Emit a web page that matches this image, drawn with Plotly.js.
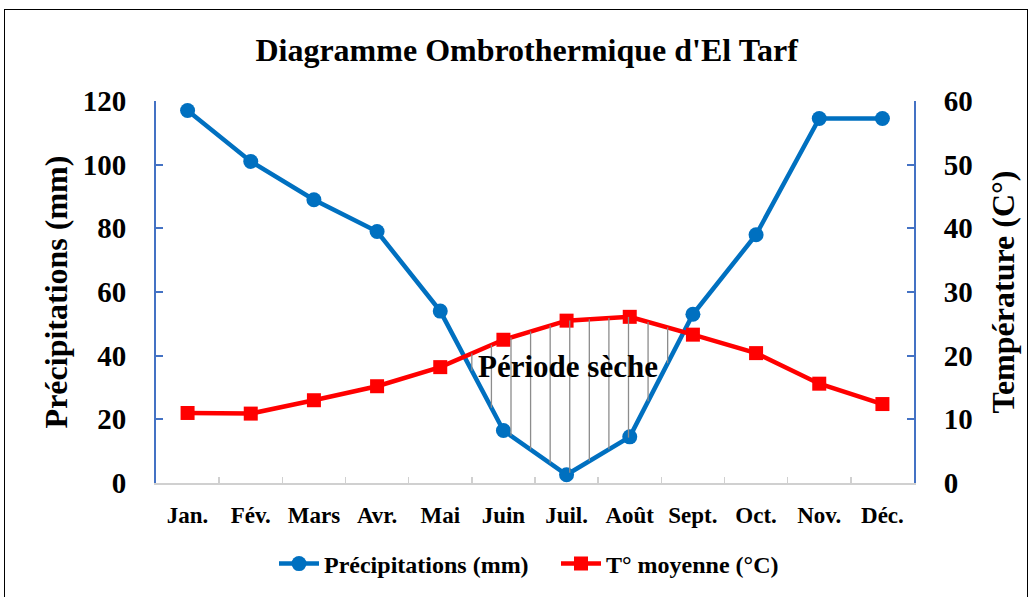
<!DOCTYPE html>
<html>
<head>
<meta charset="utf-8">
<script src="https://cdn.plot.ly/plotly-3.0.1.min.js"></script>
<style>
html,body{margin:0;padding:0;background:#fff;}
#wrap{position:relative;width:1032px;height:597px;overflow:hidden;}
#chart{width:1032px;height:597px;}
#frame{position:absolute;left:4px;top:9px;width:1022px;height:600px;border:1.5px solid #000;pointer-events:none;}
</style>
</head>
<body>
<div id="wrap"><div id="chart"></div><div id="frame"></div></div>
<script>
const months = ["Jan.", "Fév.", "Mars", "Avr.", "Mai", "Juin", "Juil.", "Août", "Sept.", "Oct.", "Nov.", "Déc."];
const precipitation = [117, 101, 89, 79, 54, 16.5, 2.6, 14.5, 53, 78, 114.5, 114.5];
const temperature = [11.0, 10.9, 13.0, 15.2, 18.2, 22.5, 25.5, 26.1, 23.3, 20.4, 15.6, 12.4];

const FONT = "Liberation Serif, Times New Roman, serif";
const BLUE = "#0070C0";
const RED = "#FF0000";
const AXISBLUE = "#4472C4";

// hatching of the dry period (P < 2T), computed from the data
function interp(arr, x) {
  const i = Math.min(Math.floor(x), arr.length - 2);
  const t = x - i;
  return arr[i] * (1 - t) + arr[i + 1] * t;
}
const hx = [], hy = [];
for (let x = 4.5; x <= 7.9; x += 0.31) {
  const p = interp(precipitation, x);
  const t2 = 2 * interp(temperature, x);
  if (t2 > p) {
    hx.push(x, x, null);
    hy.push(p, t2, null);
  }
}

const traces = [
  {
    x: hx, y: hy, xaxis: "x2", yaxis: "y", mode: "lines",
    line: {color: "#8c8c8c", width: 1.3}, showlegend: false, hoverinfo: "skip"
  },
  {
    x: months, y: precipitation, name: "Précipitations (mm)", mode: "lines+markers",
    line: {color: BLUE, width: 4.5}, marker: {color: BLUE, size: 15, symbol: "circle"},
    yaxis: "y"
  },
  {
    x: months, y: temperature, name: "T° moyenne (°C)", mode: "lines+markers",
    line: {color: RED, width: 4.5}, marker: {color: RED, size: 14, symbol: "square"},
    yaxis: "y2"
  }
];

const layout = {
  width: 1032, height: 597,
  margin: {l: 156, r: 118, t: 101, b: 114},
  paper_bgcolor: "#fff", plot_bgcolor: "#fff",
  font: {family: FONT, color: "#000"},
  title: {
    text: "<b>Diagramme Ombrothermique d'El Tarf</b>",
    font: {family: FONT, size: 32, color: "#000"},
    x: 0.489, xref: "paper", xanchor: "center",
    y: 0.916, yref: "container", yanchor: "middle"
  },
  xaxis: {
    type: "category", categoryorder: "array", categoryarray: months,
    range: [-0.5, 11.5], tickson: "boundaries",
    showline: true, linecolor: "#d0d0d0", linewidth: 1.5,
    ticks: "inside", ticklen: 6, tickcolor: "#d0d0d0", tickwidth: 1.5,
    showgrid: false, zeroline: false,
    tickfont: {family: FONT, size: 23, color: "#000", weight: "bold"},
    ticklabelstandoff: 11
  },
  xaxis2: {
    overlaying: "x", range: [-0.5, 11.5], visible: false, showgrid: false, zeroline: false
  },
  yaxis: {
    range: [0, 120], tickvals: [0, 20, 40, 60, 80, 100, 120],
    showline: true, linecolor: AXISBLUE, linewidth: 2,
    ticks: "inside", ticklen: 7, tickcolor: AXISBLUE, tickwidth: 2,
    showgrid: false, zeroline: false,
    tickfont: {family: FONT, size: 29, color: "#000", weight: "bold"},
    ticklabelstandoff: 22,
    title: {text: "<b>Précipitations (mm)</b>", font: {family: FONT, size: 32, color: "#000"}, standoff: 6}
  },
  yaxis2: {
    overlaying: "y", side: "right",
    range: [0, 60], tickvals: [0, 10, 20, 30, 40, 50, 60],
    showline: true, linecolor: AXISBLUE, linewidth: 2,
    ticks: "inside", ticklen: 7, tickcolor: AXISBLUE, tickwidth: 2,
    showgrid: false, zeroline: false,
    tickfont: {family: FONT, size: 29, color: "#000", weight: "bold"},
    ticklabelstandoff: 22,
    title: {text: "<b>Température (C°)</b>", font: {family: FONT, size: 32, color: "#000"}, standoff: 20}
  },
  legend: {
    orientation: "h", x: 556 / 1032, xanchor: "center", xref: "container",
    y: 1 - 564 / 597, yref: "container", yanchor: "middle",
    font: {family: FONT, size: 24, color: "#000", weight: "bold"},
    itemwidth: 40, tracegroupgap: 0, entrywidth: 227
  },
  annotations: [
    {
      x: 6.03, y: 36.5, xref: "x2", yref: "y", text: "<b>Période sèche</b>",
      showarrow: false, font: {family: FONT, size: 31, color: "#000"}
    }
  ],
  showlegend: true
};

Plotly.newPlot("chart", traces, layout, {displayModeBar: false, staticPlot: true});
</script>
</body>
</html>
